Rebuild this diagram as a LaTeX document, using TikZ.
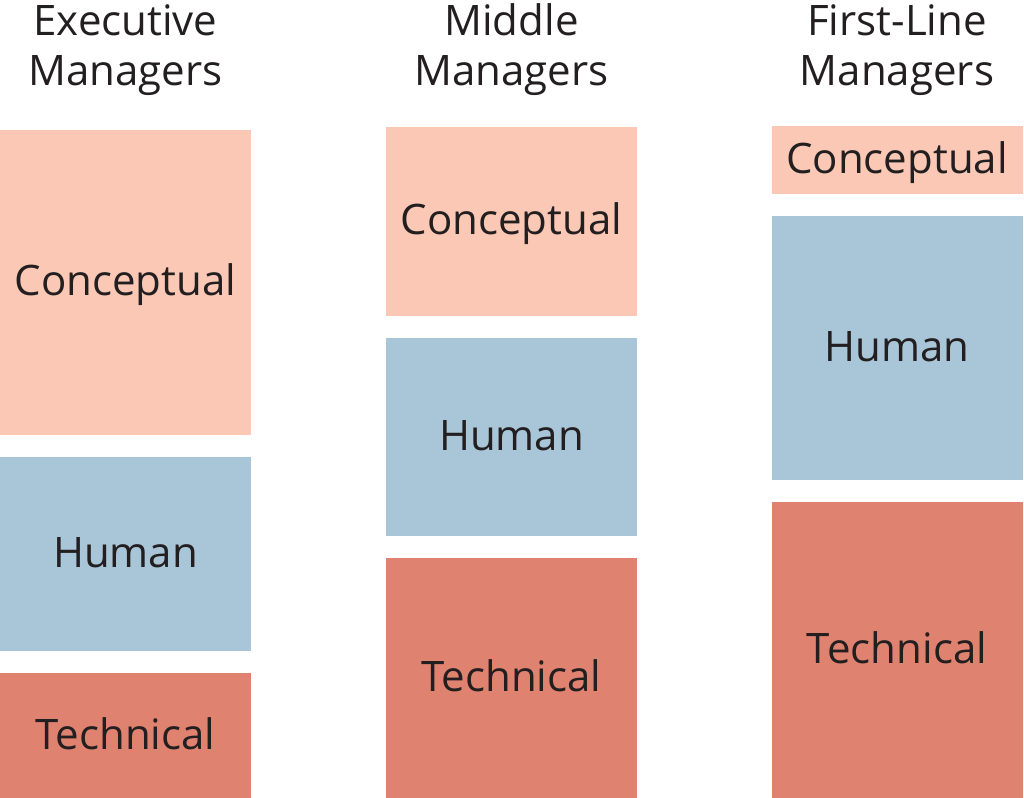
\documentclass[tikz,border=0pt]{standalone}
\usepackage{fontspec}
\setmainfont{Open Sans}
\usepackage{xcolor}
\usetikzlibrary{positioning}

\definecolor{peach}{RGB}{250,200,180}
\definecolor{skyblue}{RGB}{168,198,216}
\definecolor{brick}{RGB}{224,130,112}
\definecolor{ink}{RGB}{35,31,32}

\begin{document}
\begin{tikzpicture}[
        x=0.5pt, y=-0.5pt,
        node distance=10.5pt,
        label/.style={text=ink, font=\fontsize{21}{25}\selectfont},
        head/.style={label, align=center, inner sep=0},
        skill/.style={label, minimum width=125.5pt, inner sep=0, text height=15pt, text depth=2pt},
        conc/.style={skill, fill=peach},
        hum/.style={skill, fill=skyblue},
        tech/.style={skill, fill=brick}
    ]
        \useasboundingbox (0,0) rectangle (1024,798);

        % column headings
        \node[head] (exhead) at (125.5,50) {Executive\\Managers};
        \node[head] (midhead) at (511.5,50) {Middle\\Managers};
        \node[head] (flhead) at (897,50) {First-Line\\Managers};

        % executive managers
        \node[conc, anchor=north, minimum height=152.5pt] (exconc) at (125.5,130) {Conceptual};
        \node[hum, below=of exconc, minimum height=97pt] (exhum) {Human};
        \node[tech, below=of exhum, minimum height=63pt] (extech) {Technical};

        % middle managers
        \node[conc, anchor=north, minimum height=94.5pt] (midconc) at (511.5,127) {Conceptual};
        \node[hum, below=of midconc, minimum height=99pt] (midhum) {Human};
        \node[tech, below=of midhum, minimum height=120pt] (midtech) {Technical};

        % first-line managers
        \node[conc, anchor=north, minimum height=34pt] (flconc) at (897,126) {Conceptual};
        \node[hum, below=of flconc, minimum height=132pt] (flhum) {Human};
        \node[tech, below=of flhum, minimum height=148.5pt] (fltech) {Technical};
    \end{tikzpicture}
\end{document}
